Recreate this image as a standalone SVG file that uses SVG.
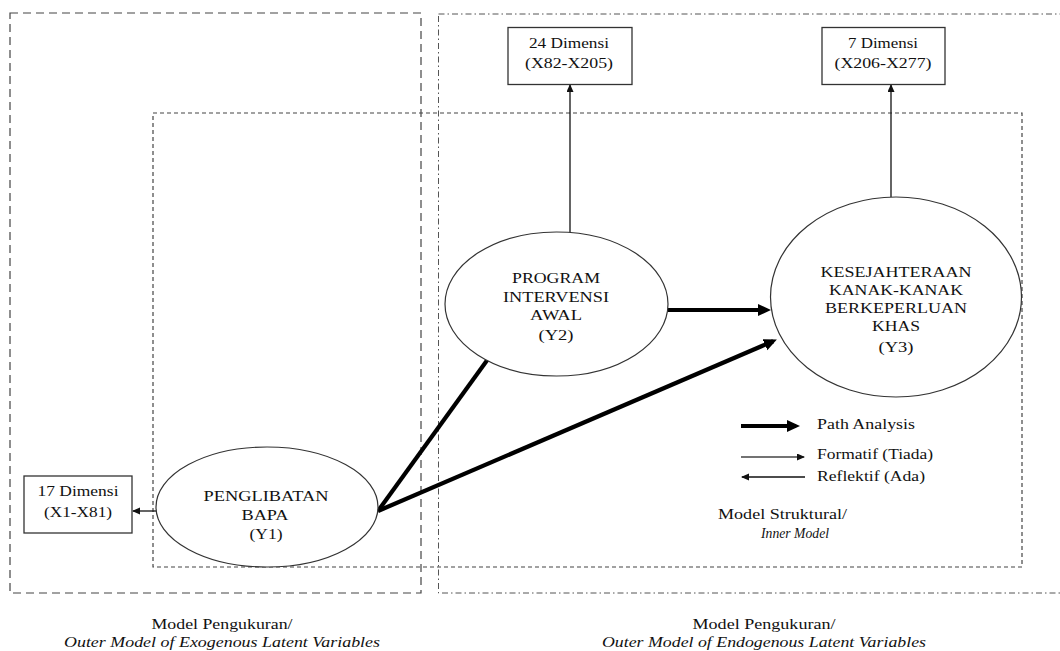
<svg xmlns="http://www.w3.org/2000/svg" width="1060" height="651" viewBox="0 0 1060 651">
<style>
text{font-family:"Liberation Serif","Times New Roman",serif;font-size:15px;fill:#111;text-anchor:middle}
.it{font-style:italic}
.st{text-anchor:start}
.box{fill:#fff;stroke:#333;stroke-width:1.3}
.ell{fill:#fff;stroke:#333;stroke-width:1.2}
.thin{stroke:#111;stroke-width:1.3;fill:none}
.thick{stroke:#000;stroke-width:4.2;fill:none}
.region{fill:none}
</style>
<defs>
<marker id="ah" markerUnits="userSpaceOnUse" markerWidth="8" markerHeight="8" refX="7" refY="3.5" orient="auto"><path d="M0,0 L8,3.5 L0,7 z" fill="#111"/></marker>
<marker id="ahT" markerUnits="userSpaceOnUse" markerWidth="14" markerHeight="14" refX="9" refY="6" orient="auto"><path d="M0,0 L13,6 L0,12 z" fill="#000"/></marker>
</defs>
<g id="regions">
<rect class="region" x="10" y="13" width="411" height="580" stroke="#444" stroke-width="1.2" stroke-dasharray="8 5"/>
<rect class="region" x="438.5" y="14" width="640" height="579" stroke="#555" stroke-width="1" stroke-dasharray="6 3 1.5 3"/>
<rect class="region" x="153" y="113" width="869" height="454" stroke="#444" stroke-width="1.2" stroke-dasharray="4 3"/>
</g>
<g id="connectors">
<line class="thin" x1="156" y1="511" x2="133" y2="511" marker-end="url(#ah)"/>
<line class="thin" x1="570" y1="232" x2="570" y2="85" marker-end="url(#ah)"/>
<line class="thin" x1="891" y1="197" x2="891" y2="85" marker-end="url(#ah)"/>
<line class="thick" x1="378" y1="511" x2="488" y2="359"/>
<line class="thick" x1="378" y1="511" x2="773.2" y2="341.2" marker-end="url(#ahT)"/>
<line class="thick" x1="668" y1="310" x2="767" y2="310" marker-end="url(#ahT)"/>
</g>
<g id="box-x1-x81">
<rect class="box" x="24" y="476" width="108" height="57"/>
<text x="78" y="496" textLength="81" lengthAdjust="spacingAndGlyphs">17 Dimensi</text>
<text x="78" y="517" textLength="68" lengthAdjust="spacingAndGlyphs">(X1-X81)</text>
</g>
<g id="box-x82-x205">
<rect class="box" x="508" y="27.5" width="124" height="57"/>
<text x="569" y="48" textLength="80" lengthAdjust="spacingAndGlyphs">24 Dimensi</text>
<text x="569" y="68" textLength="88" lengthAdjust="spacingAndGlyphs">(X82-X205)</text>
</g>
<g id="box-x206-x277">
<rect class="box" x="822" y="27.5" width="123" height="57"/>
<text x="883" y="48" textLength="70" lengthAdjust="spacingAndGlyphs">7 Dimensi</text>
<text x="883" y="68" textLength="97" lengthAdjust="spacingAndGlyphs">(X206-X277)</text>
</g>
<g id="node-y1">
<ellipse class="ell" cx="267" cy="507" rx="111" ry="60"/>
<text x="266" y="501" textLength="125" lengthAdjust="spacingAndGlyphs">PENGLIBATAN</text>
<text x="265" y="520" textLength="47" lengthAdjust="spacingAndGlyphs">BAPA</text>
<text x="266" y="539" textLength="33" lengthAdjust="spacingAndGlyphs">(Y1)</text>
</g>
<g id="node-y2">
<ellipse class="ell" cx="556.5" cy="304" rx="111.5" ry="72"/>
<text x="556" y="283" textLength="88" lengthAdjust="spacingAndGlyphs">PROGRAM</text>
<text x="556" y="302" textLength="106" lengthAdjust="spacingAndGlyphs">INTERVENSI</text>
<text x="556" y="320" textLength="52" lengthAdjust="spacingAndGlyphs">AWAL</text>
<text x="556" y="340" textLength="35" lengthAdjust="spacingAndGlyphs">(Y2)</text>
</g>
<g id="node-y3">
<ellipse class="ell" cx="896" cy="297" rx="125.5" ry="100"/>
<text x="896" y="277" textLength="151" lengthAdjust="spacingAndGlyphs">KESEJAHTERAAN</text>
<text x="896" y="295" textLength="134" lengthAdjust="spacingAndGlyphs">KANAK-KANAK</text>
<text x="896" y="313" textLength="142" lengthAdjust="spacingAndGlyphs">BERKEPERLUAN</text>
<text x="896" y="331" textLength="48" lengthAdjust="spacingAndGlyphs">KHAS</text>
<text x="896" y="352" textLength="35" lengthAdjust="spacingAndGlyphs">(Y3)</text>
</g>
<g id="legend">
<line class="thick" x1="741" y1="426" x2="796" y2="426" marker-end="url(#ahT)"/>
<line stroke="#444" stroke-width="1.6" x1="741" y1="457" x2="804" y2="457" marker-end="url(#ah)"/>
<line class="thin" x1="805" y1="477" x2="742" y2="477" marker-end="url(#ah)"/>
<text class="st" x="817" y="429" textLength="98" lengthAdjust="spacingAndGlyphs">Path Analysis</text>
<text class="st" x="817" y="459" textLength="116" lengthAdjust="spacingAndGlyphs">Formatif (Tiada)</text>
<text class="st" x="817" y="481" textLength="108" lengthAdjust="spacingAndGlyphs">Reflektif (Ada)</text>
</g>
<g id="label-inner">
<text class="st" x="718" y="519" textLength="129" lengthAdjust="spacingAndGlyphs">Model Struktural/</text>
<text class="st it" x="761" y="538" textLength="68" lengthAdjust="spacingAndGlyphs" font-size="16">Inner Model</text>
</g>
<g id="label-exo">
<text x="222" y="629" textLength="141" lengthAdjust="spacingAndGlyphs">Model Pengukuran/</text>
<text class="it" x="222" y="647" textLength="316" lengthAdjust="spacingAndGlyphs">Outer Model of Exogenous Latent Variables</text>
</g>
<g id="label-endo">
<text x="764" y="629" textLength="143" lengthAdjust="spacingAndGlyphs">Model Pengukuran/</text>
<text class="it" x="764" y="647" textLength="324" lengthAdjust="spacingAndGlyphs">Outer Model of Endogenous Latent Variables</text>
</g>
</svg>
